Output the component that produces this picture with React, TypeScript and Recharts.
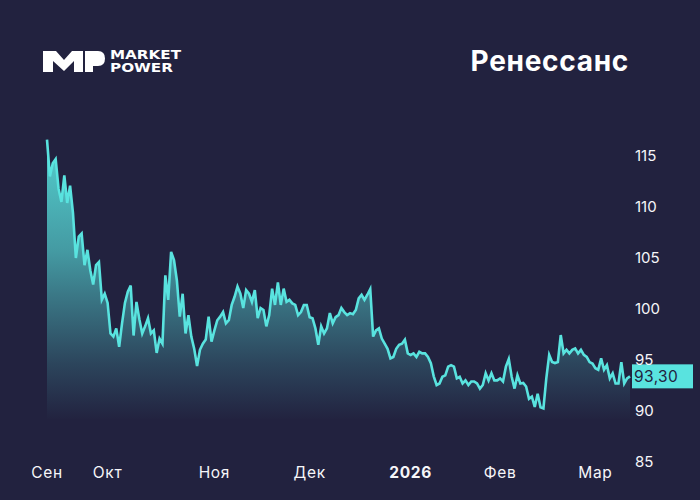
import React from 'react';
import { AreaChart, Area, XAxis, YAxis, ReferenceDot } from 'recharts';

const BG = '#22223f';
const LINE = '#59e3df';

const prices = [
  116.5, 112.9, 114.2, 114.6, 111.7, 110.4, 113.0, 110.3, 112.0, 109.3, 104.9, 107.0, 107.3, 104.2, 105.7, 103.7,
  102.3, 104.2, 104.5, 100.8, 101.4, 100.5, 97.5, 97.2, 98.0, 96.2, 98.5, 100.5, 101.6, 102.2,
  97.3, 100.6, 98.9, 97.5, 98.2, 99.0, 97.5, 97.8, 95.6, 97.0, 96.5, 103.2, 100.8, 105.5, 104.7, 102.7, 99.15,
  101.4, 97.5, 99.3, 97.2, 96.0, 94.3, 95.9, 96.5, 96.9, 99.15, 96.7, 97.8, 98.8, 99.15, 99.6, 98.5,
  98.8, 100.3, 101.1, 102.1, 101.4, 100.0, 101.76, 101.4, 100.6, 101.76, 99.0, 100.0, 99.8, 98.2, 99.3, 101.9,
  100.3, 102.5, 100.3, 101.9, 100.6, 100.8, 100.45, 100.3, 99.3, 99.6, 100.3, 100.3, 99.1, 99.0, 98.0, 96.4,
  98.2, 97.5, 98.0, 99.5, 98.5, 99.1, 99.3, 100.0, 99.6, 99.3, 99.5, 99.4, 99.8, 100.94, 101.3, 100.8, 101.3,
  101.86, 97.2, 97.8, 98.0, 97.0, 96.5, 96.0, 95.06, 95.2, 96.0, 96.4, 96.5, 96.9, 95.55, 95.4, 95.55,
  95.2, 95.7, 95.55, 95.55, 95.2, 94.6, 93.3, 92.45, 92.6, 93.26, 93.4, 94.25, 94.4, 94.25, 93.1, 93.26,
  92.6, 92.9, 92.45, 92.8, 92.8, 92.6, 92.1, 92.45, 93.6, 92.9, 93.6, 92.9, 92.9, 93.1, 92.8, 94.25,
  95.0, 93.26, 92.1, 93.4, 92.6, 92.65, 92.3, 91.1, 91.3, 90.3, 91.6, 90.26, 90.16, 93.1, 95.4, 94.7,
  94.6, 94.7, 97.35, 95.55, 95.9, 95.55, 95.9, 96.04, 95.55, 95.9, 95.4, 95.2, 94.7, 94.55, 94.1, 93.95,
  95.06, 93.95, 94.4, 93.1, 93.6, 92.6, 92.6, 94.7, 92.6, 93.1, 93.3,
];
const tickIndexes = [0, 21, 58, 91, 126, 157, 190];
const tickLabels = ['Сен', 'Окт', 'Ноя', 'Дек', '2026', 'Фев', 'Мар'];
const yTicks = [85, 90, 95, 100, 105, 110, 115];
const lastPrice = 93.3;
const lastPriceLabel = '93,30';

const chartData = prices.map((price, i) => ({ i, price }));

const MonthTick = ({ x, y, payload }: any) => {
  const label = tickLabels[tickIndexes.indexOf(payload.value)];
  return (
    <text
      x={x}
      y={y}
      dy={9}
      textAnchor="middle"
      fill="#f6f6f9"
      fontSize={15.5}
      letterSpacing={0.7}
      fontFamily="Inter"
      fontWeight={label === '2026' ? 700 : 400}
    >
      {label}
    </text>
  );
};

const PriceTag = ({ cx, cy }: any) => (
  <g>
    <rect x={cx + 2} y={cy - 12} width={61} height={24} fill={LINE} />
    <text x={cx + 4} y={cy + 6} fill="#22223f" fontSize={15.5} letterSpacing={0.4} fontFamily="Inter">
      {lastPriceLabel}
    </text>
  </g>
);

const Logo = () => (
  <svg width={150} height={30} style={{ position: 'absolute', left: 40, top: 46 }}>
    <path d="M3 5 H16 L24 14 L32 5 H43 V26 H34 V15 L24 25 L13 15 V26 H3 Z" fill="#fff" />
    <path d="M45 5 H58 Q65 5 65 12.5 Q65 20 58 20 H53 V26 H45 Z" fill="#fff" />
    <text x={70} y={13} fill="#fff" fontSize={11.5} fontFamily="DejaVu Sans" fontWeight={700} textLength={71} lengthAdjust="spacingAndGlyphs">
      MARKET
    </text>
    <text x={70} y={26} fill="#fff" fontSize={11.5} fontFamily="DejaVu Sans" fontWeight={700} textLength={63} lengthAdjust="spacingAndGlyphs">
      POWER
    </text>
  </svg>
);

export default function App() {
  return (
    <div style={{ position: 'absolute', left: 0, top: 0, width: 700, height: 500, background: BG, overflow: 'hidden' }}>
      <Logo />
      <div
        style={{
          position: 'absolute',
          right: 71,
          top: 43,
          color: '#fff',
          fontFamily: 'Inter',
          fontWeight: 700,
          fontSize: 28,
          letterSpacing: 0.7,
          lineHeight: '36px',
        }}
      >
        Ренессанс
      </div>
      <AreaChart
        width={700}
        height={500}
        data={chartData}
        margin={{ top: 134.6, right: 0, bottom: 9, left: 47 }}
      >
        <defs>
          <linearGradient id="fade" x1="0" y1="0" x2="0" y2="1">
            <stop offset="0%" stopColor={LINE} stopOpacity={0.9} />
            <stop offset="40%" stopColor={LINE} stopOpacity={0.62} />
            <stop offset="55%" stopColor={LINE} stopOpacity={0.45} />
            <stop offset="80%" stopColor={LINE} stopOpacity={0.18} />
            <stop offset="100%" stopColor={LINE} stopOpacity={0} />
          </linearGradient>
        </defs>
        <XAxis
          dataKey="i"
          type="number"
          domain={[0, prices.length - 1]}
          ticks={tickIndexes}
          interval={0}
          tick={<MonthTick />}
          tickLine={false}
          axisLine={false}
          height={30}
        />
        <YAxis
          orientation="right"
          domain={[85, 117]}
          ticks={yTicks}
          interval={0}
          width={70}
          tickLine={false}
          axisLine={false}
          tickMargin={-1}
          tick={{ fill: '#f6f6f9', fontSize: 15, fontFamily: 'Inter', dy: 1 }}
        />
        <Area
          type="linear"
          dataKey="price"
          baseValue={89}
          stroke={LINE}
          strokeWidth={2.6}
          fill="url(#fade)"
          fillOpacity={1}
          dot={false}
          isAnimationActive={false}
        />
        <ReferenceDot x={prices.length - 1} y={lastPrice} ifOverflow="visible" shape={<PriceTag />} />
      </AreaChart>
    </div>
  );
}
